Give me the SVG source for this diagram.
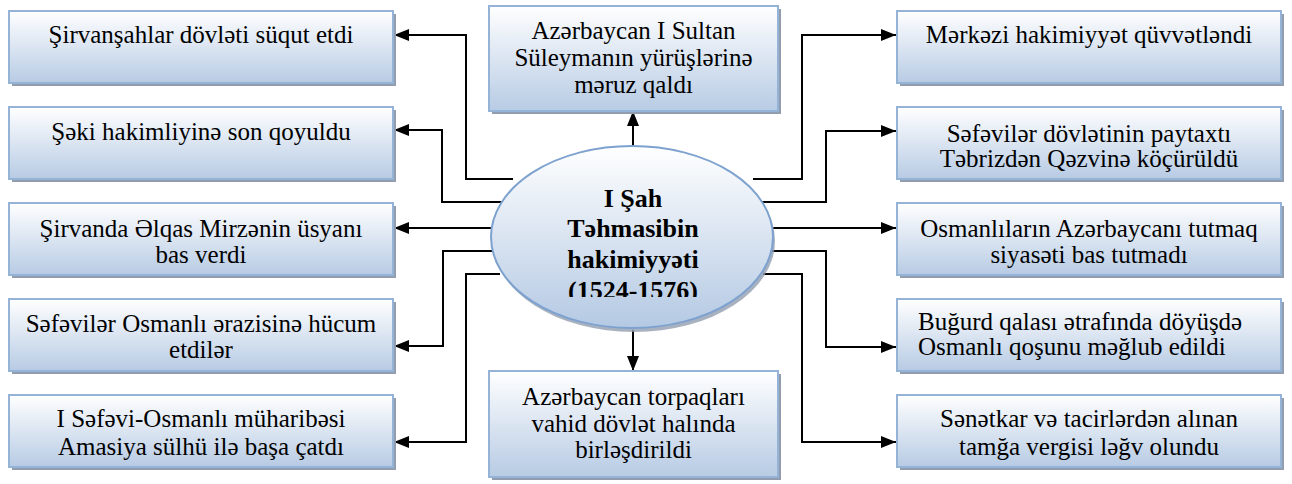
<svg xmlns="http://www.w3.org/2000/svg" width="1292" height="484" viewBox="0 0 1292 484">
<defs>
<linearGradient id="gb" x1="0" y1="0" x2="0" y2="1">
<stop offset="0" stop-color="#ffffff"/>
<stop offset="1" stop-color="#b7cbe4"/>
</linearGradient>
<linearGradient id="ge" x1="0" y1="0" x2="0" y2="1">
<stop offset="0" stop-color="#ffffff"/>
<stop offset="1" stop-color="#b4c9e3"/>
</linearGradient>
<marker id="ah" markerWidth="15" markerHeight="12" refX="15" refY="6" orient="auto" markerUnits="userSpaceOnUse">
<path d="M0,0 L15,6 L0,12 z" fill="#000"/>
</marker>
<clipPath id="cc"><rect x="480" y="140" width="310" height="157"/></clipPath>
</defs>
<style>
.sh{fill:#919daf}
.bx{fill:url(#gb);stroke:#95b3d7;stroke-width:2}
.ca{fill:none;stroke:#000;stroke-width:2;marker-end:url(#ah)}
</style>
<rect width="1292" height="484" fill="#fff"/>
<g id="connectors">
<path class="ca" d="M513,179 H466 V35 H394"/>
<path class="ca" d="M502,202 H442 V130 H394"/>
<path class="ca" d="M494,228 H394"/>
<path class="ca" d="M494,251 H443 V346 H394"/>
<path class="ca" d="M500,274 H466 V442 H394"/>
<path class="ca" d="M753,179 H802 V35 H896"/>
<path class="ca" d="M760,202 H826 V131 H896"/>
<path class="ca" d="M772,228 H896"/>
<path class="ca" d="M772,251 H826 V347 H896"/>
<path class="ca" d="M763,274 H802 V442 H896"/>
<path class="ca" d="M633,146 V111"/>
<path class="ca" d="M633,330 V371"/>
</g>
<g font-family="Liberation Serif, DejaVu Serif Condensed, DejaVu Serif, serif" font-size="25" fill="#000" text-anchor="middle">
<g id="center">
<ellipse cx="634" cy="241" rx="141" ry="91" class="sh" opacity="0.8"/>
<ellipse cx="632" cy="237" rx="141" ry="91" fill="url(#ge)" stroke="#7ea2cf" stroke-width="2"/>
<g clip-path="url(#cc)" font-size="26" font-weight="bold">
<text x="633" y="207">I Şah</text>
<text x="633" y="237">Təhmasibin</text>
<text x="633" y="268">hakimiyyəti</text>
<text x="633" y="299">(1524-1576)</text>
</g>
</g>
<g id="n-top">
<rect x="492" y="9" width="289" height="105" class="sh"/>
<rect x="489" y="6" width="289" height="105" class="bx"/>
<text x="633.5" y="39">Azərbaycan I Sultan</text>
<text x="633.5" y="66">Süleymanın yürüşlərinə</text>
<text x="633.5" y="93">məruz qaldı</text>
</g>
<g id="n-bottom">
<rect x="492" y="374" width="289" height="106" class="sh"/>
<rect x="489" y="371" width="289" height="106" class="bx"/>
<text x="633.5" y="405">Azərbaycan torpaqları</text>
<text x="633.5" y="431.5">vahid dövlət halında</text>
<text x="633.5" y="458">birləşdirildi</text>
</g>
<g id="l1">
<rect x="12" y="14" width="384" height="72" class="sh"/>
<rect x="9" y="11" width="384" height="72" class="bx"/>
<text x="201" y="43">Şirvanşahlar dövləti süqut etdi</text>
</g>
<g id="l2">
<rect x="12" y="110" width="384" height="72" class="sh"/>
<rect x="9" y="107" width="384" height="72" class="bx"/>
<text x="201" y="140">Şəki hakimliyinə son qoyuldu</text>
</g>
<g id="l3">
<rect x="12" y="206" width="384" height="72" class="sh"/>
<rect x="9" y="203" width="384" height="72" class="bx"/>
<text x="201" y="236.5">Şirvanda Əlqas Mirzənin üsyanı</text>
<text x="201" y="262.5">bas verdi</text>
</g>
<g id="l4">
<rect x="12" y="302" width="384" height="72" class="sh"/>
<rect x="9" y="299" width="384" height="72" class="bx"/>
<text x="201" y="331.5">Səfəvilər Osmanlı ərazisinə hücum</text>
<text x="201" y="358">etdilər</text>
</g>
<g id="l5">
<rect x="12" y="398" width="384" height="72" class="sh"/>
<rect x="9" y="395" width="384" height="72" class="bx"/>
<text x="201" y="427">I Səfəvi-Osmanlı müharibəsi</text>
<text x="201" y="455">Amasiya sülhü ilə başa çatdı</text>
</g>
<g id="r1">
<rect x="900" y="14" width="384" height="72" class="sh"/>
<rect x="897" y="11" width="384" height="72" class="bx"/>
<text x="1089" y="43">Mərkəzi hakimiyyət qüvvətləndi</text>
</g>
<g id="r2">
<rect x="900" y="110" width="384" height="72" class="sh"/>
<rect x="897" y="107" width="384" height="72" class="bx"/>
<text x="1089" y="141.5">Səfəvilər dövlətinin paytaxtı</text>
<text x="1089" y="167">Təbrizdən Qəzvinə köçürüldü</text>
</g>
<g id="r3">
<rect x="900" y="206" width="384" height="72" class="sh"/>
<rect x="897" y="203" width="384" height="72" class="bx"/>
<text x="1089" y="236.5">Osmanlıların Azərbaycanı tutmaq</text>
<text x="1089" y="262.5">siyasəti bas tutmadı</text>
</g>
<g id="r4">
<rect x="900" y="302" width="384" height="72" class="sh"/>
<rect x="897" y="299" width="384" height="72" class="bx"/>
<text x="918" y="330" text-anchor="start">Buğurd qalası ətrafında döyüşdə</text>
<text x="918" y="355" text-anchor="start">Osmanlı qoşunu məğlub edildi</text>
</g>
<g id="r5">
<rect x="900" y="398" width="384" height="72" class="sh"/>
<rect x="897" y="395" width="384" height="72" class="bx"/>
<text x="1089" y="427">Sənətkar və tacirlərdən alınan</text>
<text x="1089" y="455">tamğa vergisi ləğv olundu</text>
</g>
</g>
</svg>
